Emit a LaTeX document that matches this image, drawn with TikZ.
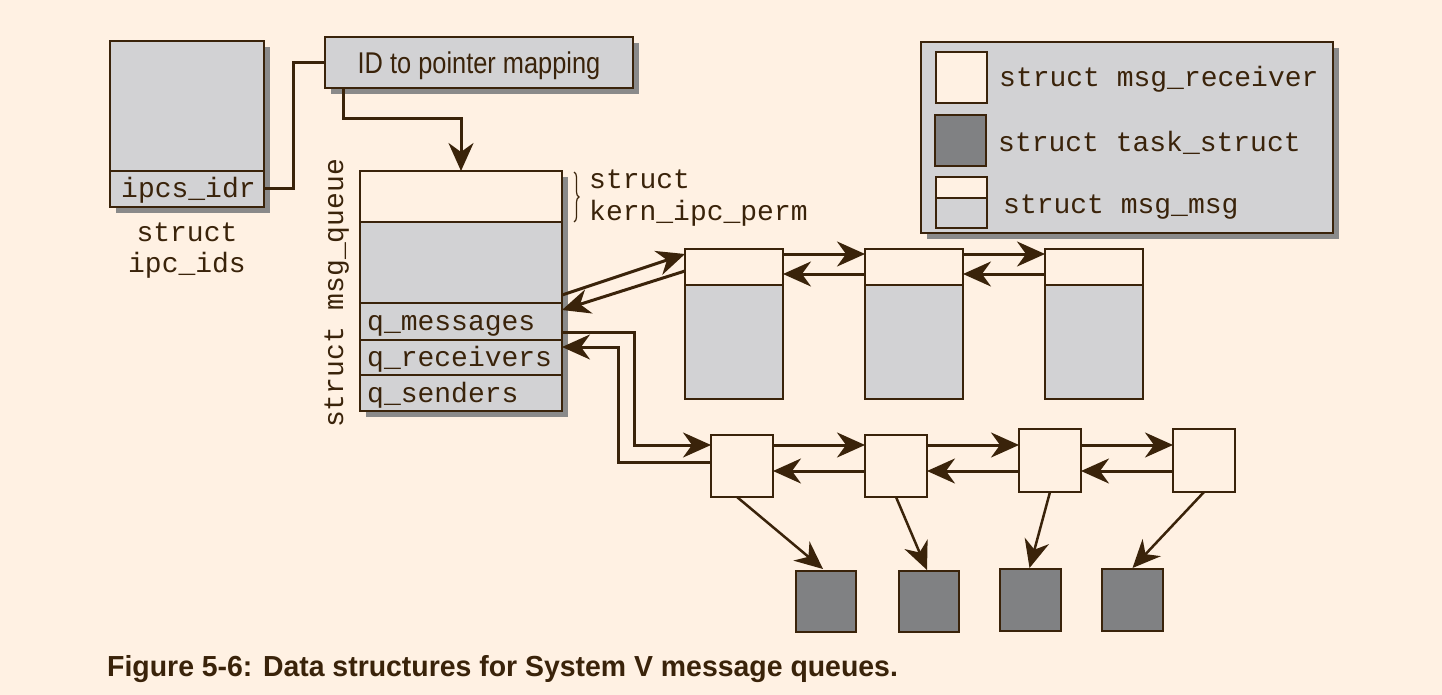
\documentclass[tikz,border=0pt]{standalone}
\usepackage{fontspec}
\setmonofont{Liberation Mono}
\newfontfamily\capfont[FakeStretch=0.846]{Liberation Sans}
\newfontfamily\titfont[FakeStretch=0.98]{Liberation Sans}
\usetikzlibrary{arrows.meta,calc,shadows,decorations.pathreplacing}
\definecolor{bg}{HTML}{FFF1E3}
\definecolor{lc}{HTML}{3A230A}
\definecolor{gr}{HTML}{D2D2D4}
\definecolor{dk}{HTML}{808183}
\definecolor{sh}{HTML}{8A8A8A}
\begin{document}
\begin{tikzpicture}[x=1pt,y=-1pt,
  box/.style={draw=lc, line width=2.4pt, inner sep=0pt, outer sep=0pt, anchor=north west},
  gbox/.style={box, fill=gr},
  wbox/.style={box, fill=bg},
  dbox/.style={box, fill=dk},
  shad/.style={drop shadow={shadow xshift=6pt,shadow yshift=-6pt,fill=sh,opacity=1}},
  mono/.style={font=\ttfamily\fontsize{28}{30}\selectfont, text=lc, inner sep=0pt, anchor=base west},
  conn/.style={draw=lc, line width=3pt},
  arr/.style={conn, -{Stealth[length=28pt,width=25pt,inset=9pt]}},
  tarr/.style={draw=lc, line width=2.5pt, -{Stealth[length=28pt,width=25pt,inset=9pt]}}
]
\fill[bg] (0,0) rectangle (1442,695);
\useasboundingbox (0,0) rectangle (1442,695);

% struct ipc_ids
\node[gbox, shad, minimum width=154pt, minimum height=166pt] (ipc) at (110,41) {};
\node[gbox, minimum width=154pt, minimum height=36pt] (idr) at (110,171) {};
\node[mono] (idrtxt) at (121,197) {ipcs\_idr};
\node[mono, anchor=base] (ipcl1) at (187,241) {struct};
\node[mono, anchor=base] (ipcl2) at (187,272) {ipc\_ids};

% ID to pointer mapping
\node[gbox, shad, minimum width=308pt, minimum height=51pt, text depth=0pt, text height=21.5pt,
      font=\capfont\fontsize{30}{32}\selectfont, text=lc] (idmap) at (325,37) {ID to pointer mapping};

% struct msg_queue
\node[gbox, shad, minimum width=202pt, minimum height=240pt] (mq) at (360,171) {};
\node[wbox, minimum width=202pt, minimum height=51pt] (perm) at (360,171) {};
\node[gbox, minimum width=202pt, minimum height=37pt] (qm) at (360,303) {};
\node[gbox, minimum width=202pt, minimum height=35pt] (qr) at (360,340) {};
\node[gbox, minimum width=202pt, minimum height=36pt] (qs) at (360,375) {};
\node[mono] (qmt) at (367,330) {q\_messages};
\node[mono] (qrt) at (367,366) {q\_receivers};
\node[mono] (qst) at (367,402) {q\_senders};
\node[mono, rotate=90] (mql) at (343,428) {struct msg\_queue};
\draw[lc, line width=1.2pt, decorate, decoration={brace, amplitude=5pt}] (574,172) -- (574,222);
\node[mono] (pl1) at (589,189) {struct};
\node[mono] (pl2) at (589,220) {kern\_ipc\_perm};

% struct msg_msg
\foreach \n/\x in {1/685,2/865,3/1045}{
  \node[gbox, minimum width=98pt, minimum height=150pt] (m\n b) at (\x,249) {};
  \node[wbox, minimum width=98pt, minimum height=36pt] (m\n) at (\x,249) {};
}

% struct msg_receiver
\node[wbox, minimum width=62pt, minimum height=62pt] (r1) at (711,435) {};
\node[wbox, minimum width=62pt, minimum height=62pt] (r2) at (865,435) {};
\node[wbox, minimum width=62pt, minimum height=63pt] (r3) at (1019,429) {};
\node[wbox, minimum width=62pt, minimum height=63pt] (r4) at (1173,429) {};

% struct task_struct
\node[dbox, minimum width=60pt, minimum height=61pt] (t1) at (796,571) {};
\node[dbox, minimum width=60pt, minimum height=61pt] (t2) at (899,571) {};
\node[dbox, minimum width=61pt, minimum height=62pt] (t3) at (1000,569) {};
\node[dbox, minimum width=61pt, minimum height=62pt] (t4) at (1102,569) {};

% legend
\node[gbox, shad, minimum width=412pt, minimum height=191pt] (lg) at (921,42) {};
\node[wbox, minimum width=51pt, minimum height=51pt] (l1) at (936,52) {};
\node[dbox, minimum width=51pt, minimum height=51pt] (l2) at (935,115) {};
\node[gbox, minimum width=51pt, minimum height=51pt] (l3) at (936,177) {};
\node[wbox, minimum width=51pt, minimum height=21pt] (l3t) at (936,177) {};
\node[mono] (lt1) at (999,87) {struct msg\_receiver};
\node[mono] (lt2) at (998,152) {struct task\_struct};
\node[mono] (lt3) at (1003,213) {struct msg\_msg};

% connectors
\draw[conn] (idr.east) -- ++(29,0) |- (idmap.west);
\draw[arr] ($(idmap.south west)+(18,0)$) -- ++(0,31) -| (perm.north);
\draw[arr] ($(qm.north east)+(0,-8)$) -- ($(m1.north west)+(0,5)$);
\draw[arr] ($(m1.north west)+(0,22)$) -- ($(qm.north east)+(0,7)$);
\draw[arr] ($(m1.north east)+(0,5)$) -- ($(m2.north west)+(0,5)$);
\draw[arr] ($(m2.north west)+(0,25)$) -- ($(m1.north east)+(0,25)$);
\draw[arr] ($(m2.north east)+(0,5)$) -- ($(m3.north west)+(0,5)$);
\draw[arr] ($(m3.north west)+(0,25)$) -- ($(m2.north east)+(0,25)$);

\coordinate (fy) at (0,445);
\coordinate (by) at (0,471);
\draw[arr] ($(qm.south east)+(0,-8)$) -- ++(72,0) |- (r1.west |- fy);
\draw[arr] ($(r1.north west)+(0,27)$) -- ++(-93,0) |- ($(qr.north east)+(0,7)$);
\draw[arr] (r1.east |- fy) -- (r2.west |- fy);
\draw[arr] (r2.west |- by) -- (r1.east |- by);
\draw[arr] (r2.east |- fy) -- (r3.west |- fy);
\draw[arr] (r3.west |- by) -- (r2.east |- by);
\draw[arr] (r3.east |- fy) -- (r4.west |- fy);
\draw[arr] (r4.west |- by) -- (r3.east |- by);

\draw[tarr] ($(r1.south)+(-5,0)$) -- ($(t1.north)+(-3,-2)$);
\draw[tarr] (r2.south) -- ($(t2.north)+(-2,-1)$);
\draw[tarr] (r3.south) -- ($(t3.north)+(-1,-1)$);
\draw[tarr] (r4.south) -- ($(t4.north)+(0,-1)$);

% caption
\node[anchor=base west, inner sep=0pt, text=lc, font=\titfont\bfseries\fontsize{29}{30}\selectfont] (cap) at (107,676) {Figure 5-6: Data structures for System V message queues.};
\end{tikzpicture}
\end{document}
